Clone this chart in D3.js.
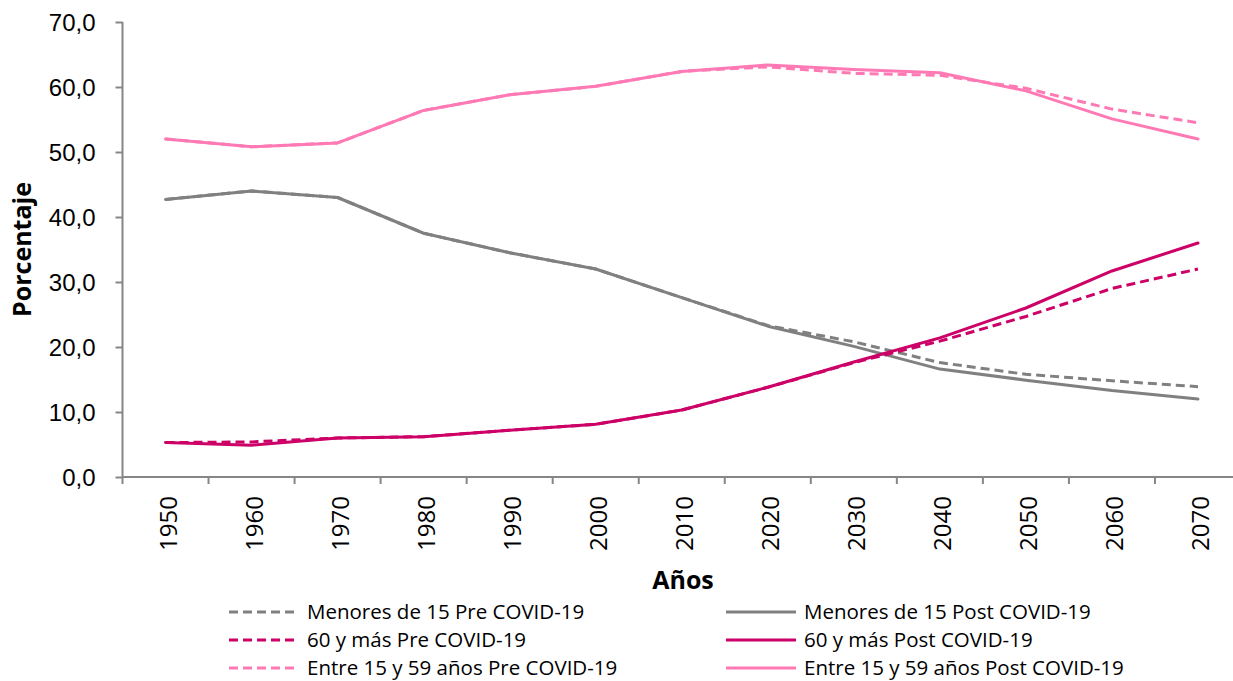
<!DOCTYPE html>
<html lang="es">
<head>
<meta charset="UTF-8">
<title>Porcentaje de población por grupo de edad</title>
<script src="https://d3js.org/d3.v7.min.js"></script>
<style>
    body { margin: 0; background: #fff; }
    svg { font-family: "Open Sans", "Noto Sans", sans-serif; }
    .axis path, .axis line { stroke: #868686; stroke-width: 2; }
    .axis text { fill: #000; font-size: 24px; }
    .legend text { font-size: 20.5px; fill: #000; }
</style>
</head>
<body>
<div id="chart"></div>
<script>
    // years on the category axis
    const years = ["1950", "1960", "1970", "1980", "1990", "2000", "2010",
                   "2020", "2030", "2040", "2050", "2060", "2070"];

    // percentages
    const menoresPre  = [42.7, 44.0, 43.0, 37.5, 34.5, 32.0, 27.6, 23.3, 20.8, 17.6, 15.8, 14.8, 13.9];
    const menoresPost = [42.7, 44.0, 43.0, 37.5, 34.5, 32.0, 27.6, 23.2, 20.1, 16.6, 14.9, 13.3, 12.0];
    const mayoresPre  = [5.3, 5.4, 6.0, 6.2, 7.2, 8.1, 10.3, 13.8, 17.6, 20.9, 24.7, 29.0, 32.0];
    const mayoresPost = [5.3, 4.9, 6.0, 6.2, 7.2, 8.1, 10.3, 13.8, 17.7, 21.4, 26.0, 31.7, 36.0];
    const entrePre    = [52.0, 50.8, 51.4, 56.4, 58.8, 60.1, 62.4, 63.1, 62.1, 61.8, 59.8, 56.6, 54.5];
    const entrePost   = [52.0, 50.8, 51.4, 56.4, 58.8, 60.1, 62.4, 63.4, 62.7, 62.2, 59.4, 55.1, 52.0];

    const yTicks = [0, 10, 20, 30, 40, 50, 60, 70];

    const series = [
        { name: "Menores de 15 Pre COVID-19",        values: menoresPre,  color: "#808080", dashed: true },
        { name: "Menores de 15 Post COVID-19",       values: menoresPost, color: "#808080", dashed: false },
        { name: "60 y más Pre COVID-19",             values: mayoresPre,  color: "#CC0066", dashed: true },
        { name: "60 y más Post COVID-19",            values: mayoresPost, color: "#CC0066", dashed: false },
        { name: "Entre 15 y 59 años Pre COVID-19",   values: entrePre,    color: "#FF7AB4", dashed: true },
        { name: "Entre 15 y 59 años Post COVID-19",  values: entrePost,   color: "#FF7AB4", dashed: false }
    ];

    const width = 1233, height = 681;
    const plot = { left: 122.5, right: 1241, top: 22, bottom: 477 };

    const svg = d3.select("#chart").append("svg")
        .attr("width", width)
        .attr("height", height);

    const x = d3.scaleBand().domain(years).range([plot.left, plot.right]).padding(0);
    const y = d3.scaleLinear().domain([0, 70]).range([plot.bottom, plot.top]);

    const comma = d3.formatLocale({ decimal: ",", thousands: ".", grouping: [3], currency: ["", ""] });

    // Y axis
    const yAxis = svg.append("g")
        .attr("class", "axis")
        .attr("transform", `translate(${plot.left},0)`)
        .call(d3.axisLeft(y).tickValues(yTicks).tickSize(7).tickPadding(20).tickFormat(comma.format(".1f")));
    yAxis.select(".domain").attr("d", `M0,${plot.top}V${plot.bottom}`);
    yAxis.selectAll("text").attr("dy", "0.34em");

    // X axis: ticks between categories, labels rotated
    const xAxis = svg.append("g")
        .attr("class", "axis")
        .attr("transform", `translate(0,${plot.bottom})`);
    xAxis.append("path")
        .attr("class", "domain")
        .attr("fill", "none")
        .attr("d", `M${plot.left},0H${plot.right}`);
    const bounds = years.map(d => x(d)).concat([x(years[years.length - 1]) + x.bandwidth()]);
    xAxis.selectAll("line.tick")
        .data(bounds)
        .enter().append("line")
        .attr("x1", d => d).attr("x2", d => d)
        .attr("y1", 0).attr("y2", 7);
    xAxis.selectAll("text")
        .data(years)
        .enter().append("text")
        .attr("transform", d => `translate(${x(d) + x.bandwidth() / 2 + 11},${19}) rotate(-90)`)
        .attr("text-anchor", "end")
        .text(d => d);

    // axis titles
    svg.append("text")
        .attr("transform", `translate(31,${(plot.top + plot.bottom) / 2}) rotate(-90)`)
        .attr("text-anchor", "middle")
        .style("font-weight", "bold")
        .style("font-size", "25px")
        .text("Porcentaje");

    svg.append("text")
        .attr("x", 683)
        .attr("y", 589)
        .attr("text-anchor", "middle")
        .style("font-weight", "bold")
        .style("font-size", "25px")
        .text("Años");

    // lines
    const line = d3.line()
        .x((d, i) => x(years[i]) + x.bandwidth() / 2)
        .y(d => y(d));

    series.forEach(s => {
        svg.append("path")
            .datum(s.values)
            .attr("fill", "none")
            .attr("stroke", s.color)
            .attr("stroke-width", 3)
            .attr("stroke-linejoin", "round")
            .attr("stroke-linecap", s.dashed ? "butt" : "round")
            .attr("stroke-dasharray", s.dashed ? "9,5" : null)
            .attr("d", line);
    });

    // legend, two columns
    const legend = svg.append("g").attr("class", "legend");
    const colX = [229, 726];
    const rowY = [612, 640, 668];
    series.forEach((s, i) => {
        const g = legend.append("g")
            .attr("transform", `translate(${colX[i % 2]},${rowY[Math.floor(i / 2)]})`);
        g.append("line")
            .attr("x1", 0).attr("x2", 70)
            .attr("stroke", s.color)
            .attr("stroke-width", 3)
            .attr("stroke-dasharray", s.dashed ? "9,5" : null);
        g.append("text")
            .attr("x", 78)
            .attr("dy", "0.35em")
            .text(s.name);
    });
</script>
</body>
</html>
